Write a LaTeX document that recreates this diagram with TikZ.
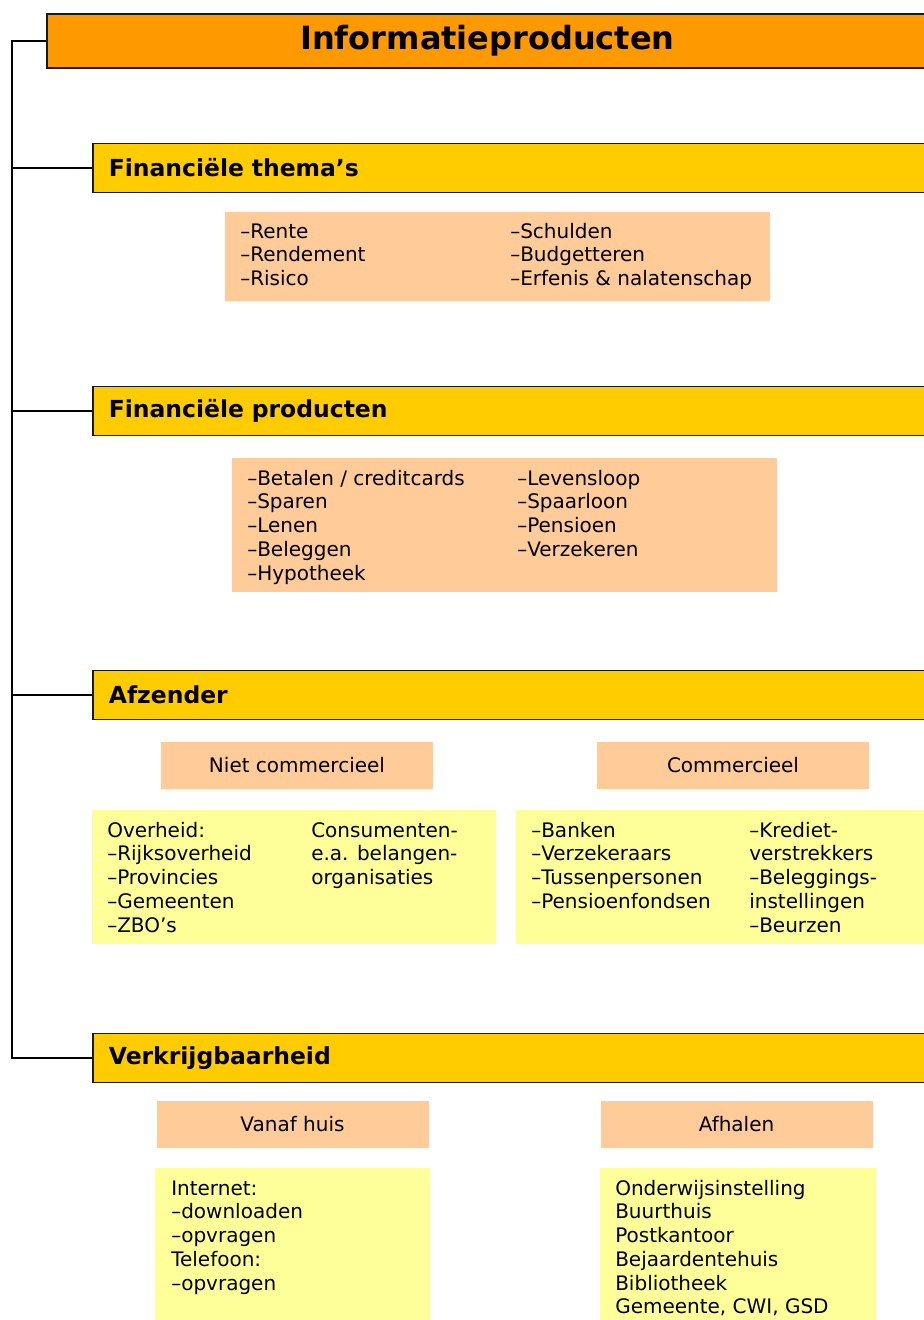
\documentclass[tikz,border=0pt]{standalone}
\usepackage{fontspec}
\setmainfont{DejaVu Sans}
\usepackage{tikz}

\definecolor{titleorange}{HTML}{FF9900}
\definecolor{baryellow}{HTML}{FFCC00}
\definecolor{peach}{HTML}{FFCC99}
\definecolor{lightyellow}{HTML}{FFFF99}

\tikzset{
    tree/.style={line width=1.5pt},
    titlebox/.style={draw=black!90, line width=1.4pt, fill=titleorange, minimum width=660.75pt, minimum height=40.5pt, font=\fontsize{24}{28}\selectfont\bfseries},
    sectionbar/.style={draw=black!90, line width=1.3pt, fill=baryellow, anchor=west, minimum height=36.75pt, text width=612pt, inner xsep=12pt, align=left, font=\fontsize{17.6}{21}\selectfont\bfseries},
    headbox/.style={fill=peach, minimum width=204pt, minimum height=35.25pt, font=\fontsize{15}{18}\selectfont},
    listbox/.style={fill=peach},
    notebox/.style={fill=lightyellow},
    % lists are placed by the baseline of their last line
    listtext/.style={anchor=base west, align=left, inner sep=0pt, font=\fontsize{15}{17.8}\selectfont}
}

\begin{document}
\begin{tikzpicture}[x=0.75pt, y=-0.75pt]
    \useasboundingbox (0,0) rectangle (924,1320);
    \clip (0,0) rectangle (924,1320);

    % Title
    \node[titlebox] (title) at (487.5,41) {Informatieproducten};

    % Section bars
    \node[sectionbar] (thema) at (92,168) {Financiële thema’s};
    \node[sectionbar] (product) at (92,411) {Financiële producten};
    \node[sectionbar] (afzender) at (92,695) {Afzender};
    \node[sectionbar] (verkrijg) at (92,1058) {Verkrijgbaarheid};

    % Tree
    \coordinate (root) at (12,41);
    \draw[tree] (title.west) -- (root) |- (verkrijg.west);
    \draw[tree] (root |- thema.west) -- (thema.west);
    \draw[tree] (root |- product.west) -- (product.west);
    \draw[tree] (root |- afzender.west) -- (afzender.west);

    % Financiele themas
    \node[listbox, minimum width=408.75pt, minimum height=66.75pt] (themalist) at (497.5,256.5) {};
    \node[listtext] (themaA) at (240,285.5) {–Rente\\–Rendement\\–Risico};
    \node[listtext] (themaB) at (510,285.5) {–Schulden\\–Budgetteren\\–Erfenis \& nalatenschap};

    % Financiele producten
    \node[listbox, minimum width=408.75pt, minimum height=100.5pt] (productlist) at (504.5,525) {};
    \node[listtext] (productA) at (247,580) {–Betalen / creditcards\\–Sparen\\–Lenen\\–Beleggen\\–Hypotheek};
    \node[listtext] (productB) at (517,556.25) {–Levensloop\\–Spaarloon\\–Pensioen\\–Verzekeren};

    % Afzender
    \node[headbox] (nietcom) at (297,765.5) {Niet commercieel};
    \node[headbox] (com) at (733,765.5) {Commercieel};
    \node[notebox, minimum width=303pt, minimum height=100.5pt] (nietcomlist) at (294,877) {};
    \node[notebox, minimum width=318pt, minimum height=100.5pt] (comlist) at (728,877) {};
    \node[listtext] (nietcomA) at (107,932) {Overheid:\\–Rijksoverheid\\–Provincies\\–Gemeenten\\–ZBO’s};
    \node[listtext] (nietcomB) at (311,884.5) {Consumenten-\\e.a. belangen-\\organisaties};
    \node[listtext] (comA) at (531,908.25) {–Banken\\–Verzekeraars\\–Tussenpersonen\\–Pensioenfondsen};
    \node[listtext] (comB) at (749,932) {–Krediet-\\verstrekkers\\–Beleggings-\\instellingen\\–Beurzen};

    % Verkrijgbaarheid
    \node[headbox] (huis) at (292.5,1124.5) {Vanaf huis};
    \node[headbox] (afhalen) at (736.5,1124.5) {Afhalen};
    \node[notebox, minimum width=206.25pt, minimum height=121.5pt] (huislist) at (292.5,1249) {};
    \node[notebox, minimum width=207pt, minimum height=121.5pt] (afhalenlist) at (738,1249) {};
    \node[listtext] (huisA) at (171,1290) {Internet:\\–downloaden\\–opvragen\\Telefoon:\\–opvragen};
    \node[listtext] (afhalenA) at (615,1313.75) {Onderwijsinstelling\\Buurthuis\\Postkantoor\\Bejaardentehuis\\Bibliotheek\\Gemeente, CWI, GSD};
\end{tikzpicture}
\end{document}
